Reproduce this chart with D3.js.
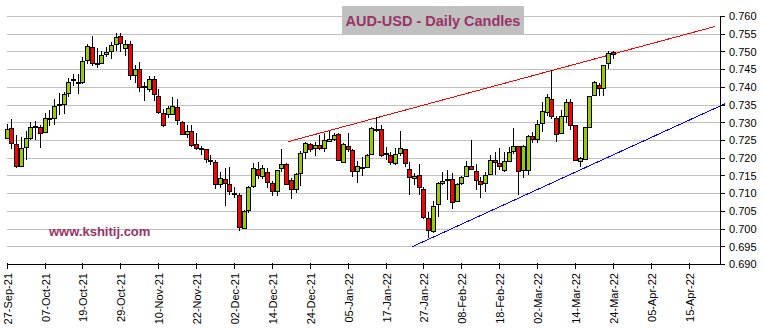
<!DOCTYPE html>
<html>
<head>
<meta charset="utf-8">
<script src="https://cdn.jsdelivr.net/npm/d3@7"></script>
<style>
  html, body { margin: 0; padding: 0; background: #ffffff; }
  svg { display: block; font-family: Arial, "Liberation Sans", sans-serif; }
</style>
</head>
<body>
<svg id="chart" width="763" height="329"></svg>
<script>
// AUD-USD daily candles, one entry per weekday session starting 27-Sep-21
const open = [
  .7256,.7284,.7239,.7178,.7229,.7257,.7287,.7287,.7272,.7308,
  .7312,.7348,.7353,.7382,.7419,.7410,.7413,.7475,.7512,.7467,
  .7466,.7492,.7500,.7520,.7543,.7509,.7520,.7433,.7451,.7399,
  .7394,.7423,.7375,.7327,.7323,.7323,.7343,.7301,.7267,.7274,
  .7240,.7225,.7225,.7194,.7188,.7127,.7140,.7126,.7101,.7095,
  .7002,.7052,.7120,.7168,.7149,.7160,.7129,.7106,.7170,.7182,
  .7137,.7112,.7157,.7216,.7239,.7227,.7236,.7227,.7248,.7253,
  .7267,.7188,.7234,.7223,.7163,.7171,.7174,.7211,.7279,.7281,
  .7211,.7209,.7185,.7213,.7225,.7168,.7143,.7151,.7112,.7030,
  .6992,.7070,.7129,.7136,.7140,.7077,.7128,.7149,.7178,.7163,
  .7135,.7129,.7154,.7194,.7185,.7164,.7192,.7218,.7232,.7166,
  .7166,.7260,.7253,.7298,.7329,.7365,.7312,.7270,.7319,.7356,
  .7291,.7192,.7197,.7288,.7377,.7406,.7396,.7467,.7499
];
const high = [
  .7296,.7312,.7265,.7260,.7276,.7303,.7304,.7293,.7327,.7337,
  .7366,.7384,.7387,.7427,.7437,.7437,.7487,.7523,.7546,.7511,
  .7503,.7513,.7527,.7554,.7554,.7533,.7532,.7464,.7471,.7415,
  .7432,.7432,.7394,.7340,.7347,.7372,.7368,.7304,.7293,.7295,
  .7272,.7235,.7227,.7210,.7194,.7161,.7171,.7174,.7119,.7101,
  .7054,.7121,.7187,.7188,.7180,.7171,.7136,.7168,.7225,.7187,
  .7143,.7158,.7220,.7246,.7244,.7246,.7265,.7272,.7276,.7272,
  .7270,.7244,.7272,.7225,.7192,.7204,.7213,.7287,.7315,.7293,
  .7232,.7218,.7230,.7276,.7227,.7188,.7157,.7185,.7119,.7048,
  .7080,.7133,.7160,.7168,.7157,.7129,.7149,.7193,.7251,.7185,
  .7148,.7162,.7208,.7218,.7230,.7218,.7232,.7284,.7234,.7237,
  .7265,.7274,.7307,.7359,.7382,.7448,.7318,.7335,.7368,.7368,
  .7293,.7204,.7288,.7377,.7418,.7412,.7464,.7504,.7502
];
const low = [
  .7253,.7227,.7173,.7177,.7194,.7251,.7252,.7229,.7271,.7291,
  .7295,.7321,.7325,.7373,.7404,.7381,.7410,.7467,.7460,.7456,
  .7465,.7485,.7480,.7502,.7501,.7488,.7420,.7413,.7387,.7361,
  .7387,.7361,.7324,.7288,.7314,.7321,.7295,.7265,.7256,.7231,
  .7223,.7208,.7187,.7180,.7113,.7116,.7066,.7096,.7087,.6995,
  .7001,.7044,.7117,.7140,.7140,.7115,.7092,.7094,.7161,.7124,
  .7085,.7101,.7121,.7197,.7218,.7207,.7223,.7218,.7246,.7249,
  .7192,.7187,.7218,.7147,.7130,.7150,.7171,.7208,.7274,.7203,
  .7194,.7180,.7180,.7207,.7176,.7096,.7124,.7096,.7028,.6974,
  .6990,.7034,.7124,.7082,.7056,.7076,.7124,.7146,.7166,.7110,
  .7089,.7105,.7152,.7154,.7168,.7161,.7190,.7213,.7096,.7143,
  .7152,.7242,.7242,.7274,.7318,.7312,.7246,.7268,.7298,.7279,
  .7192,.7176,.7194,.7287,.7375,.7377,.7377,.7453,.7481
];
const close = [
  .7281,.7241,.7178,.7227,.7256,.7287,.7290,.7270,.7312,.7312,
  .7347,.7352,.7379,.7413,.7423,.7414,.7472,.7515,.7467,.7464,
  .7489,.7498,.7518,.7540,.7523,.7520,.7433,.7451,.7399,.7402,
  .7423,.7380,.7328,.7291,.7340,.7347,.7306,.7268,.7276,.7237,
  .7227,.7227,.7196,.7190,.7127,.7143,.7129,.7106,.7097,.7005,
  .7050,.7118,.7170,.7152,.7171,.7132,.7106,.7165,.7182,.7127,
  .7111,.7154,.7213,.7241,.7225,.7236,.7227,.7251,.7252,.7264,
  .7194,.7239,.7225,.7163,.7178,.7174,.7208,.7284,.7282,.7207,
  .7213,.7188,.7211,.7228,.7185,.7145,.7149,.7118,.7032,.6997,
  .7063,.7129,.7135,.7140,.7075,.7126,.7146,.7178,.7168,.7136,
  .7127,.7151,.7194,.7188,.7176,.7190,.7216,.7232,.7162,.7234,
  .7260,.7253,.7295,.7331,.7371,.7319,.7268,.7318,.7356,.7292,
  .7194,.7199,.7287,.7375,.7413,.7396,.7462,.7495,.7493
];

// Date labels, one every 8 sessions
const sessionsPerTick = 8;
const tickLabels = [
  "27-Sep-21","07-Oct-21","19-Oct-21","29-Oct-21","10-Nov-21","22-Nov-21",
  "02-Dec-21","14-Dec-21","24-Dec-21","05-Jan-22","17-Jan-22","27-Jan-22",
  "08-Feb-22","18-Feb-22","02-Mar-22","14-Mar-22","24-Mar-22","05-Apr-22","15-Apr-22"
];
const priceTicks = [0.690,0.695,0.700,0.705,0.710,0.715,0.720,0.725,0.730,0.735,0.740,0.745,0.750,0.755,0.760];

// Trend lines: [session index, price]
const resistanceLine = [[59.5, 0.7247], [149.6, 0.7572]];
const supportLine = [[85.6, 0.6950], [151.7, 0.7354]];

const titleText = "AUD-USD - Daily Candles";
const siteText = "www.kshitij.com";

const W = 763, H = 329;
const plot = { left: 6.5, right: 720.5, top: 16.5, bottom: 264.5 };

const svg = d3.select("#chart");

const x = d3.scaleLinear().domain([0, 150.75]).range([6.7, 720.7]);
const y = d3.scaleLinear().domain([0.690, 0.760]).range([plot.bottom, plot.top]);
const snap = v => Math.round(v - 0.5) + 0.5;

// horizontal gridlines
svg.append("g").selectAll("line")
  .data(priceTicks.slice(1))
  .join("line")
  .attr("x1", plot.left).attr("x2", plot.right)
  .attr("y1", d => snap(y(d))).attr("y2", d => snap(y(d)))
  .attr("stroke", "#c0c0c0").attr("stroke-width", 1)
  .attr("shape-rendering", "crispEdges");

// title box
const titleG = svg.append("g");
titleG.append("rect")
  .attr("x", 342).attr("y", 6).attr("width", 182).attr("height", 28)
  .attr("fill", "#c0c0c0");
titleG.append("text")
  .attr("x", 433).attr("y", 25.5)
  .attr("text-anchor", "middle")
  .attr("font-size", "14.5px").attr("font-weight", "bold")
  .attr("fill", "#993366")
  .text(titleText);

// watermark
svg.append("text")
  .attr("x", 49).attr("y", 235.5)
  .attr("font-size", "13px").attr("font-weight", "bold")
  .attr("fill", "#993366")
  .text(siteText);

// trend lines
const line = d3.line().x(d => x(d[0])).y(d => y(d[1]));
svg.append("path").attr("d", line(resistanceLine))
  .attr("fill", "none").attr("stroke", "#ff0000").attr("stroke-width", 1)
  .attr("shape-rendering", "crispEdges");
svg.append("path").attr("d", line(supportLine))
  .attr("fill", "none").attr("stroke", "#0000ff").attr("stroke-width", 1)
  .attr("shape-rendering", "crispEdges");

// candles
const candles = open.map((o, i) => ({ i, o, h: high[i], l: low[i], c: close[i] }));
const cg = svg.append("g").attr("shape-rendering", "crispEdges");
const items = cg.selectAll("g").data(candles).join("g");
items.append("line")
  .attr("x1", d => Math.round(x(d.i)) + 0.5).attr("x2", d => Math.round(x(d.i)) + 0.5)
  .attr("y1", d => Math.round(y(d.h))).attr("y2", d => Math.round(y(d.l)))
  .attr("stroke", "#000").attr("stroke-width", 1);
items.append("rect")
  .attr("x", d => Math.round(x(d.i)) - 1.5)
  .attr("width", 4)
  .attr("y", d => snap(y(Math.max(d.o, d.c))))
  .attr("height", d => Math.max(1, snap(y(Math.min(d.o, d.c))) - snap(y(Math.max(d.o, d.c)))))
  .attr("fill", d => d.c >= d.o ? "#99cc00" : "#ff0000")
  .attr("stroke", "#000").attr("stroke-width", 1);

// x axis
const xAxisG = svg.append("g").attr("shape-rendering", "crispEdges");
xAxisG.append("line")
  .attr("x1", plot.left).attr("x2", plot.right + 0.5)
  .attr("y1", plot.bottom).attr("y2", plot.bottom)
  .attr("stroke", "#000");
const xTicks = tickLabels.map((label, k) => ({ label, i: k * sessionsPerTick }));
xAxisG.selectAll("line.tick").data(xTicks).join("line")
  .attr("class", "tick")
  .attr("x1", d => Math.round(x(d.i)) + 0.5).attr("x2", d => Math.round(x(d.i)) + 0.5)
  .attr("y1", plot.bottom - 2).attr("y2", plot.bottom + 4)
  .attr("stroke", "#000");
svg.append("g").selectAll("text").data(xTicks).join("text")
  .attr("transform", d => `translate(${Math.round(x(d.i)) + 1.5},273) rotate(-90)`)
  .attr("text-anchor", "end")
  .attr("dy", "0.35em")
  .attr("font-size", "11px")
  .attr("fill", "#000")
  .text(d => d.label);

// right price axis
const yAxisG = svg.append("g").attr("shape-rendering", "crispEdges");
yAxisG.append("line")
  .attr("x1", plot.right).attr("x2", plot.right)
  .attr("y1", plot.top - 1).attr("y2", plot.bottom)
  .attr("stroke", "#000");
yAxisG.selectAll("line.tick").data(priceTicks).join("line")
  .attr("class", "tick")
  .attr("x1", plot.right).attr("x2", plot.right + 4)
  .attr("y1", d => snap(y(d))).attr("y2", d => snap(y(d)))
  .attr("stroke", "#000");
svg.append("g").selectAll("text").data(priceTicks).join("text")
  .attr("x", 729)
  .attr("y", d => y(d))
  .attr("dy", "0.35em")
  .attr("font-size", "11px")
  .attr("fill", "#000")
  .text(d => d3.format(".3f")(d));
</script>
</body>
</html>
